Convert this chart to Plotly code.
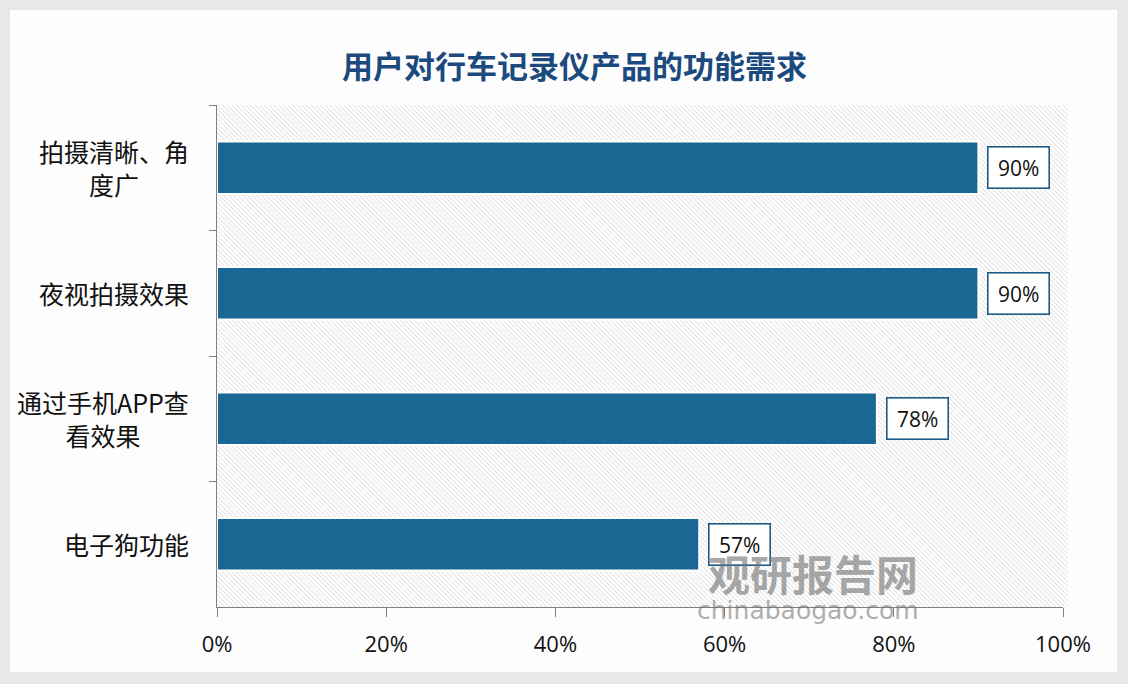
import urllib.parse
import plotly.graph_objects as go

categories = ["拍摄清晰、角<br>度广", "夜视拍摄效果", "通过手机APP查<br>看效果", "电子狗功能"]
values = [90, 90, 78, 57]
value_labels = ["90%", "90%", "78%", "57%"]
x_ticks = [0, 20, 40, 60, 80, 100]
x_tick_labels = ["0%", "20%", "40%", "60%", "80%", "100%"]
title_text = "用户对行车记录仪产品的功能需求"

W, H = 1128, 684
L, R, T, B = 217, 65, 105, 77
pw, ph = W - L - R, H - T - B


def px_x(p):
    return (p - L) / pw


def px_y(p):
    return (H - B - p) / ph


bar_color = "#196893"
cjk = "Noto Sans CJK SC"

fig = go.Figure()
fig.add_trace(go.Bar(
    y=categories, x=values, orientation="h",
    marker=dict(color=bar_color, line=dict(color="#ffffff", width=2)),
    width=0.42, hoverinfo="skip",
))

annotations = []
for c, v, lab in zip(categories, values, value_labels):
    annotations.append(dict(
        x=v, y=c, xref="x", yref="y", text=lab, showarrow=False,
        xanchor="left", yanchor="middle", xshift=9,
        font=dict(family="Open Sans", size=21, color="#111111"),
        bgcolor="#ffffff", bordercolor="#1f5a86", borderwidth=1.6,
        width=58, height=38,
    ))
    annotations.append(dict(
        x=px_x(191), y=c, xref="paper", yref="y", text=c,
        showarrow=False, xanchor="right", yanchor="middle", align="center",
        font=dict(family=cjk, size=25, color="#111111"),
    ))

annotations.append(dict(
    x=px_x(574), y=px_y(64), xref="paper", yref="paper",
    text=title_text, showarrow=False, xanchor="center", yanchor="middle",
    font=dict(family=cjk, size=31, color="#1c4a7e", weight="bold"),
))
# watermark
annotations.append(dict(
    x=px_x(813), y=px_y(572), xref="paper", yref="paper", text="<b>观研报告网</b>",
    showarrow=False, xanchor="center", yanchor="middle", opacity=0.6,
    font=dict(family=cjk, size=42, color="#707070"),
))
annotations.append(dict(
    x=px_x(808), y=px_y(610), xref="paper", yref="paper", text="chinabaogao.com",
    showarrow=False, xanchor="center", yanchor="middle", opacity=0.55,
    font=dict(family="DejaVu Sans", size=25, color="#707070"),
))

hx, hy, hw, hh = L, T, 851, ph
svg = (
    f"<svg xmlns='http://www.w3.org/2000/svg' width='{W}' height='{H}' viewBox='0 0 {W} {H}'>"
    "<defs><pattern id='p' patternUnits='userSpaceOnUse' width='3.3' height='3.3' "
    "patternTransform='rotate(-45)'>"
    "<rect width='3.3' height='3.3' fill='#ffffff'/>"
    "<line x1='0' y1='0' x2='0' y2='3.3' stroke='#d4d4d4' stroke-width='1.3'/>"
    "</pattern></defs>"
    f"<rect width='{W}' height='{H}' fill='#e8e9eb'/>"
    "<rect x='9' y='9' width='1109' height='664' fill='#fdfdfe' stroke='#dcdde0'/>"
    f"<rect x='{hx}' y='{hy}' width='{hw}' height='{hh}' fill='url(#p)'/></svg>"
)
src = "data:image/svg+xml;charset=utf-8," + urllib.parse.quote(svg)

fig.update_layout(
    width=W, height=H,
    margin=dict(l=L, r=R, t=T, b=B),
    paper_bgcolor="#e8e9eb",
    plot_bgcolor="rgba(0,0,0,0)",
    showlegend=False,
    annotations=annotations,
    images=[dict(source=src, xref="paper", yref="paper", x=px_x(0), y=px_y(0),
                 sizex=W / pw, sizey=H / ph, sizing="stretch",
                 xanchor="left", yanchor="top", layer="below")],
    xaxis=dict(range=[0, 100], tickvals=x_ticks, ticktext=x_tick_labels,
               showgrid=False, zeroline=False, showline=True, linecolor="#808080",
               linewidth=1.2, ticks="outside", ticklen=9, tickcolor="#808080",
               tickfont=dict(family="Open Sans", size=22, color="#111111"),
               ticklabelstandoff=8, fixedrange=True),
    yaxis=dict(categoryorder="array", categoryarray=categories, autorange="reversed",
               showticklabels=False, showgrid=False, zeroline=False, showline=True,
               linecolor="#808080", linewidth=1.2, ticks="outside", ticklen=7,
               tickcolor="#808080", tickson="boundaries", fixedrange=True),
    bargap=0.6,
)

fig.write_html("out.html", config={"displayModeBar": False},
               post_script="document.body.style.margin='0';")
